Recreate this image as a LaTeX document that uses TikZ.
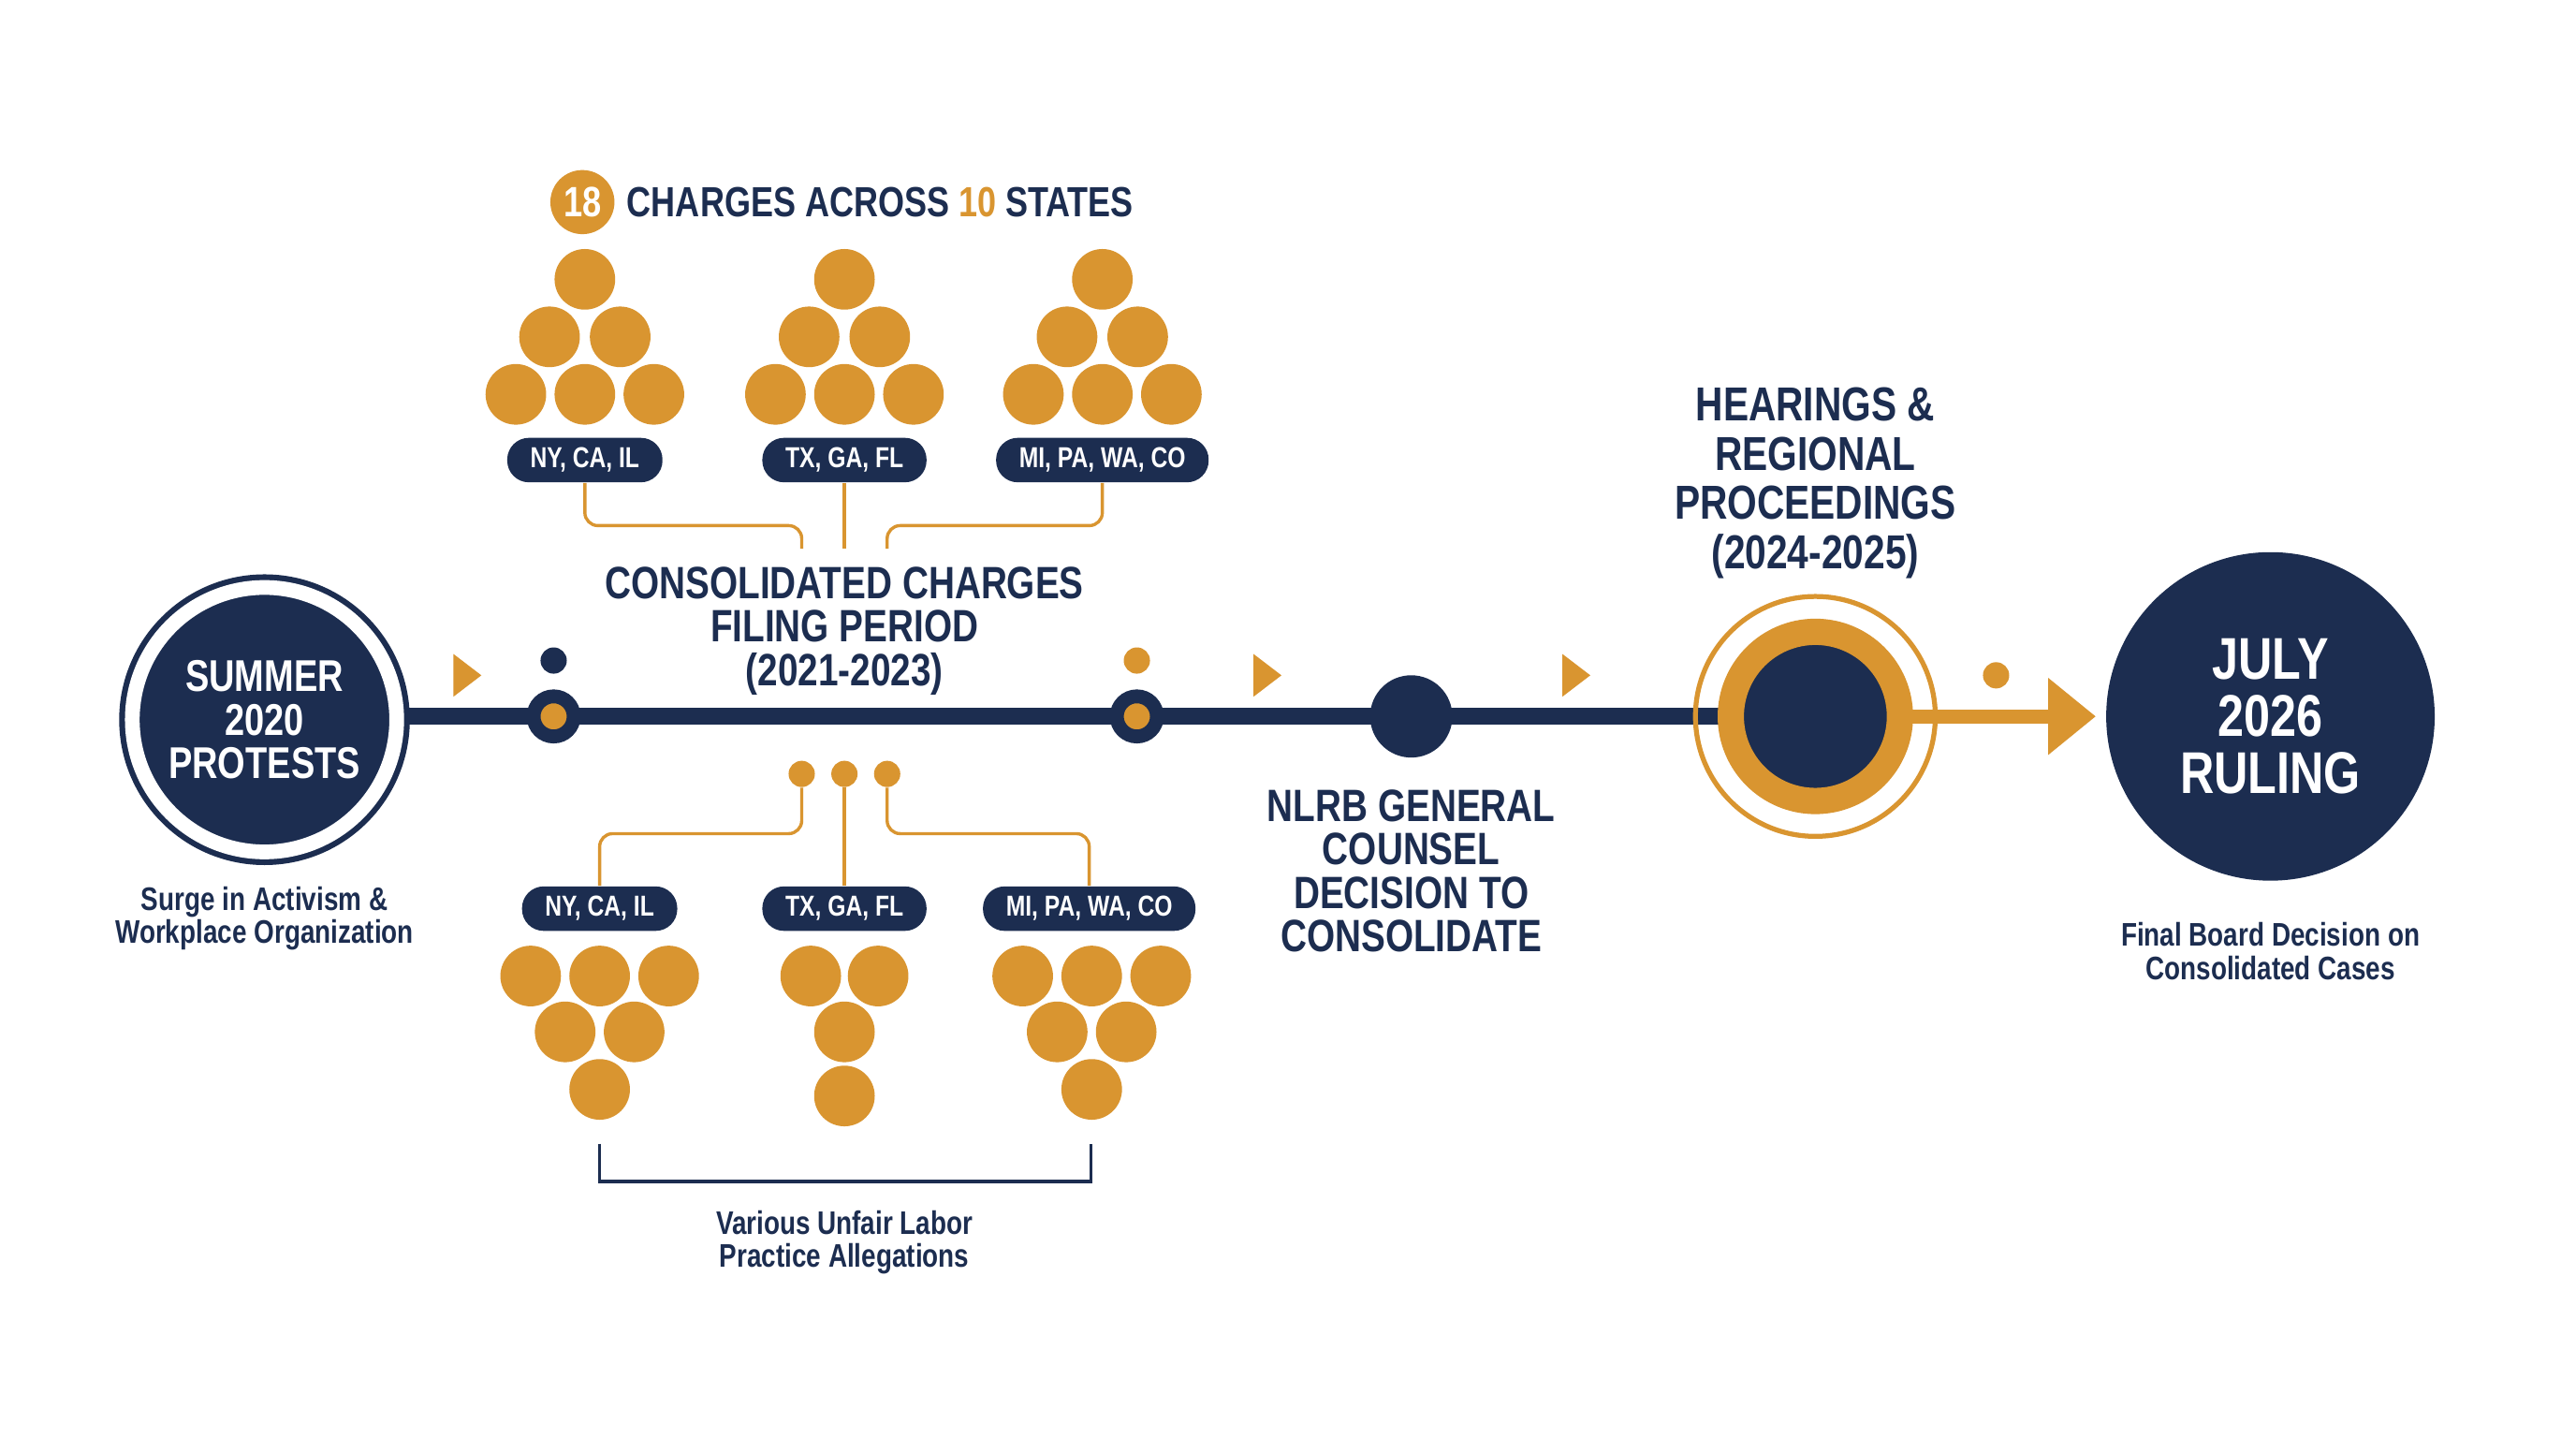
\documentclass[tikz,border=0pt]{standalone}
\usepackage{fontspec}
\setmainfont{Liberation Sans}[FakeStretch=0.8]
\usetikzlibrary{positioning,backgrounds,arrows.meta}
\definecolor{navy}{HTML}{1C2D50}
\definecolor{gold}{HTML}{D99530}

\begin{document}
\begin{tikzpicture}[x=0.02cm,y=-0.02cm,
    % stations on the line
    protest/.style={circle,fill=navy,draw=navy,double=white,double distance=5.1pt,
      line width=2pt,minimum size=91.6pt,inner sep=0pt,
      text=white,align=center,font=\bfseries\fontsize{15.4pt}{15.1pt}\selectfont},
    station/.style={circle,fill=gold,draw=navy,line width=4.8pt,minimum size=13.9pt,inner sep=0pt},
    pip/.style={circle,minimum size=9.1pt,inner sep=0pt},
    decision/.style={circle,fill=navy,minimum size=28.5pt,inner sep=0pt},
    hearing/.style={circle,fill=navy,draw=gold,line width=9.1pt,minimum size=58.6pt,inner sep=0pt},
    halo/.style={circle,draw=gold,line width=1.7pt,minimum size=83.1pt,inner sep=0pt},
    ruling/.style={circle,fill=navy,minimum size=113.8pt,inner sep=0pt,
      text=white,align=center,font=\bfseries\fontsize{20.4pt}{19.9pt}\selectfont},
    % charges
    coin/.style={circle,fill=gold,minimum size=21pt,inner sep=0pt},
    pill/.style={rectangle,rounded corners=7.5pt,fill=navy,text=white,
      minimum height=15.4pt,inner xsep=8pt,inner ysep=0pt,
      font=\bfseries\fontsize{10pt}{10pt}\selectfont},
    badge/.style={circle,fill=gold,text=white,minimum size=22.2pt,inner sep=0pt,
      font=\bfseries\fontsize{14.7pt}{14.7pt}\selectfont},
    % texts
    title/.style={text=navy,inner sep=0pt,font=\bfseries\fontsize{14.6pt}{14.6pt}\selectfont},
    heading/.style={text=navy,align=center,inner sep=0pt,
      font=\bfseries\fontsize{15.7pt}{15.1pt}\selectfont},
    caption/.style={text=navy,align=center,inner sep=0pt,
      font=\bfseries\fontsize{11.3pt}{11.5pt}\selectfont},
    % lines
    timeline/.style={draw=navy,line width=5.7pt},
    goldarrow/.style={draw=gold,line width=4.8pt,shorten >=3.4pt,
      -{Triangle[length=16.5pt,width=25.6pt]}},
    link/.style={draw=gold,line width=1.1pt,rounded corners=4.5pt},
    bracket/.style={draw=navy,line width=1.1pt}]

  \useasboundingbox (0,0) rectangle (1568,875);

  % stations
  \node[protest] (summer) at (161,438) {SUMMER\\2020\\PROTESTS};
  \node[station] (s1) at (337,436) {};
  \node[station] (s2) at (692,436) {};
  \node[pip,fill=navy] (p1) at (337,402) {};
  \node[pip,fill=gold] (p2) at (692,402) {};
  \node[decision] (nlrb) at (859,436) {};
  \node[halo] (halo) at (1105,436) {};
  \node[hearing] (hear) at (1105,436) {};
  \node[pip,fill=gold] (p3) at (1215,411) {};
  \node[ruling] (july) at (1382,436) {JULY\\2026\\RULING};

  % direction marks
  \foreach \x in {276,763,951}
    \fill[gold] (\x,398) -- ++(17,13) -- ++(-17,13) -- cycle;

  % headings and captions
  \node[heading] (cons) at (514,384) {CONSOLIDATED CHARGES\\FILING PERIOD\\(2021-2023)};
  \node[heading,font=\bfseries\fontsize{16.5pt}{17pt}\selectfont] (hearlbl) at (1105,294)
    {HEARINGS \&\\REGIONAL\\PROCEEDINGS\\(2024-2025)};
  \node[heading] (nlrblbl) at (859,530) {NLRB GENERAL\\COUNSEL\\DECISION TO\\CONSOLIDATE};
  \node[caption] (surge) at (161,559) {Surge in Activism \&\\Workplace Organization};
  \node[caption] (final) at (1382,579) {Final Board Decision on\\Consolidated Cases};
  \node[caption] (ulp) at (514,756) {Various Unfair Labor\\Practice Allegations};

  % title
  \node[badge] (n18) at (354.5,123) {18};
  \node[title,right=4pt of n18] (count) {CHARGES ACROSS \textcolor{gold}{10} STATES};

  % charges above the line
  \foreach \g/\cx in {1/356,2/514,3/671}
    \foreach \i/\dx/\y in {1/0/170,2/-21.5/205,3/21.5/205,4/-42/240,5/0/240,6/42/240}
      \node[coin] (up\g\i) at (\cx+\dx,\y) {};
  \node[pill] (t1) at (356,280) {NY, CA, IL};
  \node[pill] (t2) at (514,280) {TX, GA, FL};
  \node[pill] (t3) at (671,280) {MI, PA, WA, CO};
  \coordinate (j1) at (488,334);
  \coordinate (j2) at (514,334);
  \coordinate (j3) at (540,334);
  \draw[link] (t1.south) -- ++(0,26) -| (j1);
  \draw[link] (t2.south) -- (j2);
  \draw[link] (t3.south) -- ++(0,26) -| (j3);

  % charges below the line
  \node[pip,fill=gold] (d1) at (488,471) {};
  \node[pip,fill=gold] (d2) at (514,471) {};
  \node[pip,fill=gold] (d3) at (540,471) {};
  \node[pill] (q1) at (365,553) {NY, CA, IL};
  \node[pill] (q2) at (514,553) {TX, GA, FL};
  \node[pill] (q3) at (663,553) {MI, PA, WA, CO};
  \draw[link] (d1.south) -- ++(0,28) -| (q1.north);
  \draw[link] (d2) -- (q2);
  \draw[link] (d3.south) -- ++(0,28) -| (q3.north);
  \foreach \i/\dx/\y in {1/-42/594,2/0/594,3/42/594,4/-21/628,5/21/628,6/0/663}
    \node[coin] (lo1\i) at (365+\dx,\y) {};
  \foreach \i/\dx/\y in {1/-20.5/594,2/20.5/594,3/0/628,4/0/667}
    \node[coin] (lo2\i) at (514+\dx,\y) {};
  \foreach \i/\dx/\y in {1/-42/594,2/0/594,3/42/594,4/-21/628,5/21/628,6/0/663}
    \node[coin] (lo3\i) at (664.5+\dx,\y) {};
  \coordinate (k1) at (365,696);
  \coordinate (k2) at (664,696);
  \draw[bracket] (k1) -- ++(0,23) -| (k2);

  \begin{scope}[on background layer]
    \fill[white] (0,0) rectangle (1568,875);
    \draw[timeline] (summer.center |- hear.center) -- (hear.center);
    \draw[goldarrow] (hear.center) -- (july);
  \end{scope}
\end{tikzpicture}
\end{document}
